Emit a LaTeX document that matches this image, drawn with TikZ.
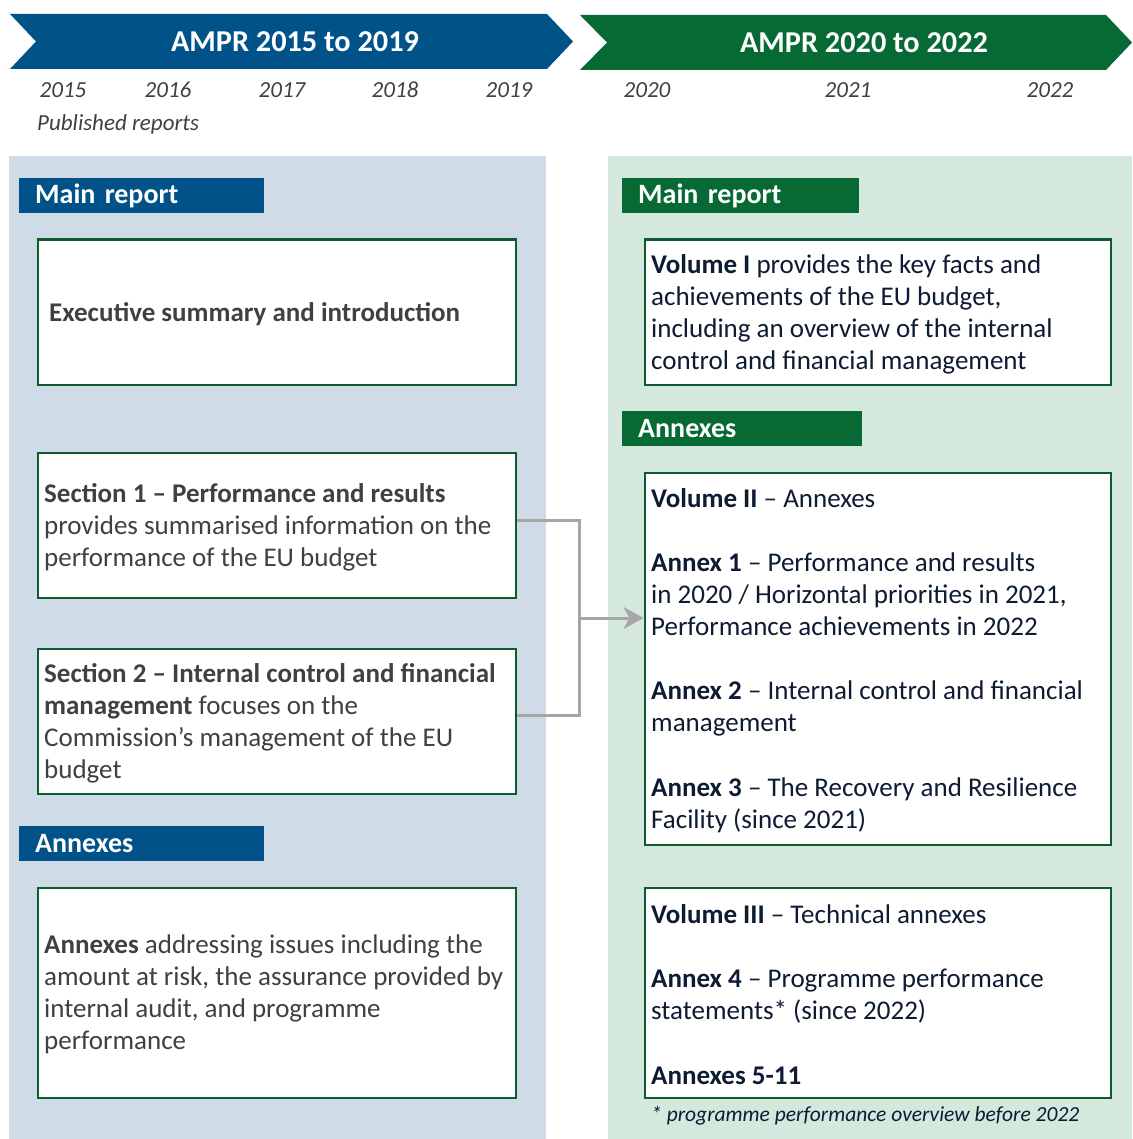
\documentclass[tikz,border=0pt]{standalone}
\usepackage{fontspec}
\setmainfont{Carlito}
\usetikzlibrary{arrows.meta}
\definecolor{ecblue}{HTML}{02528A}
\definecolor{ecgreen}{HTML}{076A35}
\definecolor{panelL}{HTML}{CFDBE6}
\definecolor{panelR}{HTML}{D5E8DD}
\definecolor{boxline}{HTML}{0F5A2E}
\definecolor{connc}{HTML}{A6A6A6}
\definecolor{greytxt}{HTML}{404040}
\definecolor{navytxt}{HTML}{0D1B33}
\tikzset{
  frame/.style={draw=boxline, line width=2.5pt, fill=white, inner sep=0pt, anchor=north west},
  ltext/.style={text=greytxt, font=\fontsize{27}{32}\selectfont, align=left, inner sep=0pt, anchor=west},
  rtext/.style={ltext, text=navytxt},
  hdr/.style={text=white, font=\bfseries\fontsize{28}{32}\selectfont, inner xsep=16pt, inner ysep=0pt, minimum height=35pt, align=left, anchor=north west},
  yeartxt/.style={text=greytxt, font=\itshape\fontsize{23}{28}\selectfont, inner sep=0pt},
  notetxt/.style={text=navytxt, font=\itshape\fontsize{21.5}{26}\selectfont, inner sep=0pt},
  titletxt/.style={text=white, font=\bfseries\fontsize{30.3}{36}\selectfont, inner sep=0pt},
  conn/.style={draw=connc, line width=3pt}
}
\begin{document}
\begin{tikzpicture}[x=1pt,y=-1pt]
\useasboundingbox (0,0) rectangle (1132,1139);
\fill[white] (0,0) rectangle (1132,1139);
% panels
\fill[panelL] (9,156) rectangle (546,1139);
\fill[panelR] (608,156) rectangle (1132,1139);
% chevrons
\fill[ecblue] (10,14) -- (547,14) -- (573,41.5) -- (547,69) -- (10,69) -- (36,41.5) -- cycle;
\fill[ecgreen] (580,15) -- (1106,15) -- (1132,42.5) -- (1106,70) -- (580,70) -- (607,42.5) -- cycle;
\node[titletxt] (t1) at (295,42) {AMPR 2015 to 2019};
\node[titletxt] (t2) at (864,43) {AMPR 2020 to 2022};
% years
\node[yeartxt] (y15) at (63,90) {2015};
\node[yeartxt] (y16) at (168,90) {2016};
\node[yeartxt] (y17) at (282,90) {2017};
\node[yeartxt] (y18) at (395,90) {2018};
\node[yeartxt] (y19) at (509,90) {2019};
\node[yeartxt] (y20) at (647,90) {2020};
\node[yeartxt] (y21) at (848,90) {2021};
\node[yeartxt] (y22) at (1050,90) {2022};
\node[yeartxt, anchor=west] (pub) at (37,124) {Published reports};
% headers
\node[hdr, fill=ecblue, text width=213pt] (mrL) at (19,178) {Main report};
\node[hdr, fill=ecblue, text width=213pt] (anL) at (19,826) {Annexes};
\node[hdr, fill=ecgreen, text width=205pt] (mrR) at (622,178) {Main report};
\node[hdr, fill=ecgreen, text width=208pt] (anR) at (622,411) {Annexes};
% left boxes
\node[frame, minimum width=478pt, minimum height=145pt] (ex) at (36.5,238.5) {};
\node[ltext] (ext) at ([xshift=12.5pt,yshift=-2pt]ex.west) {\textbf{Executive summary and introduction}};
\node[frame, minimum width=478pt, minimum height=145pt] (s1) at (36.5,451.5) {};
\node[ltext] (s1t) at ([xshift=7.5pt,yshift=-2pt]s1.west) {\textbf{Section 1 – Performance and results}\\provides summarised information on the\\performance of the EU budget};
\node[frame, minimum width=478pt, minimum height=145pt] (s2) at (36.5,647.5) {};
\node[ltext] (s2t) at ([xshift=7.5pt,yshift=-2pt]s2.west) {\textbf{Section 2 – Internal control and financial}\\\textbf{management} focuses on the\\Commission’s management of the EU\\budget};
\node[frame, minimum width=478pt, minimum height=210pt] (al) at (36.5,886.5) {};
\node[ltext] (alt) at ([xshift=7.5pt,yshift=-2pt]al.west) {\textbf{Annexes} addressing issues including the\\amount at risk, the assurance provided by\\internal audit, and programme\\performance};
% right boxes
\node[frame, minimum width=466pt, minimum height=145pt] (v1) at (643.5,238.5) {};
\node[rtext] (v1t) at ([xshift=7.5pt,yshift=-2pt]v1.west) {\textbf{Volume I} provides the key facts and\\achievements of the EU budget,\\including an overview of the internal\\control and financial management};
\node[frame, minimum width=466pt, minimum height=372pt] (v2) at (643.5,471.5) {};
\node[rtext] (v2t) at ([xshift=7.5pt,yshift=-2pt]v2.west) {\textbf{Volume II} – Annexes\\[32pt]\textbf{Annex 1} – Performance and results\\in 2020 / Horizontal priorities in 2021,\\Performance achievements in 2022\\[32pt]\textbf{Annex 2} – Internal control and financial\\management\\[33pt]\textbf{Annex 3} – The Recovery and Resilience\\Facility (since 2021)};
\node[frame, minimum width=466pt, minimum height=210pt] (v3) at (643.5,886.5) {};
\node[rtext] (v3t) at ([xshift=7.5pt,yshift=-2pt]v3.west) {\textbf{Volume III} – Technical annexes\\[32pt]\textbf{Annex 4} – Programme performance\\statements* (since 2022)\\[33pt]\textbf{Annexes 5-11}};
\node[notetxt, anchor=west] (fn) at (651,1116) {* programme performance overview before 2022};
% connectors
\coordinate (j) at (579,618);
\draw[conn] ([yshift=5pt]s1.east) -| (j) |- ([yshift=6pt]s2.east);
\draw[conn, -{Stealth[length=20pt, width=22pt, inset=6pt]}] (j) -- (j -| v2.west);
\end{tikzpicture}
\end{document}
